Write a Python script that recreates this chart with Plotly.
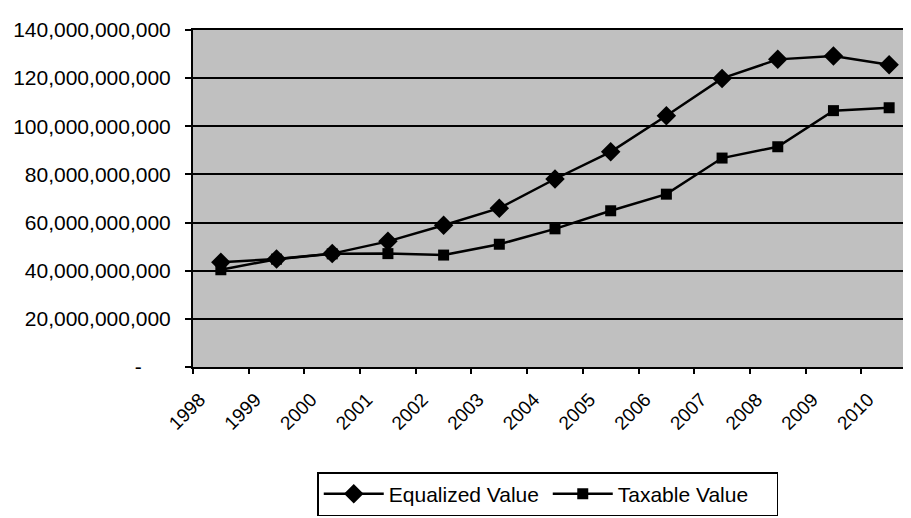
import plotly.graph_objects as go

years = ["1998", "1999", "2000", "2001", "2002", "2003", "2004", "2005", "2006", "2007", "2008", "2009", "2010"]
equalized_bn = [43.5, 44.9, 47.1, 52.2, 58.9, 66.0, 78.1, 89.4, 104.4, 119.9, 127.8, 129.2, 125.6]
taxable_bn = [40.4, 44.8, 47.0, 47.1, 46.5, 51.0, 57.4, 64.9, 71.8, 86.8, 91.5, 106.5, 107.7]
y_tick_vals = [0, 20e9, 40e9, 60e9, 80e9, 100e9, 120e9, 140e9]
y_tick_text = ["-\u00a0\u00a0\u00a0\u00a0\u00a0", "20,000,000,000", "40,000,000,000", "60,000,000,000",
               "80,000,000,000", "100,000,000,000", "120,000,000,000", "140,000,000,000"]

equalized = [v * 1e9 for v in equalized_bn]
taxable = [v * 1e9 for v in taxable_bn]

fig = go.Figure()
fig.add_trace(go.Scatter(
    x=years, y=equalized, name="Equalized Value", mode="lines+markers",
    line=dict(color="black", width=2.5),
    marker=dict(symbol="diamond", size=15, color="black"),
))
fig.add_trace(go.Scatter(
    x=years, y=taxable, name="Taxable Value", mode="lines+markers",
    line=dict(color="black", width=2.5),
    marker=dict(symbol="square", size=11, color="black"),
))

fig.update_layout(
    width=911, height=518,
    margin=dict(l=185, r=2, t=22, b=159, autoexpand=False),
    paper_bgcolor="white",
    plot_bgcolor="#c0c0c0",
    font=dict(family="Liberation Sans, Arial, sans-serif", color="black"),
    showlegend=True,
    legend=dict(
        orientation="h",
        x=0.49, xanchor="center",
        yref="container", y=0.104, yanchor="top",
        bordercolor="black", borderwidth=1.5,
        bgcolor="white",
        font=dict(family="Liberation Sans, Arial", size=21),
        itemwidth=60,
        entrywidth=154, entrywidthmode="pixels",
        tracegroupgap=0,
    ),
)
fig.update_xaxes(
    type="category",
    range=[-0.5, 12.5],
    tickson="boundaries",
    ticks="outside", ticklen=5, tickcolor="black", tickwidth=1.5,
    tickangle=-45,
    tickfont=dict(size=19),
    ticklabelstandoff=12,
    ticklabelshift=-21,
    showgrid=False,
    showline=True, linecolor="black", linewidth=2, mirror=True,
    automargin=False,
)
fig.update_yaxes(
    range=[0, 140e9],
    tickvals=y_tick_vals, ticktext=y_tick_text,
    ticks="outside", ticklen=6, tickcolor="black", tickwidth=1.5,
    tickfont=dict(size=21),
    ticklabelstandoff=10,
    showgrid=True, gridcolor="black", gridwidth=2,
    showline=True, linecolor="black", linewidth=2, mirror=True,
    zeroline=False,
    automargin=False,
)

fig.write_html("out.html")
